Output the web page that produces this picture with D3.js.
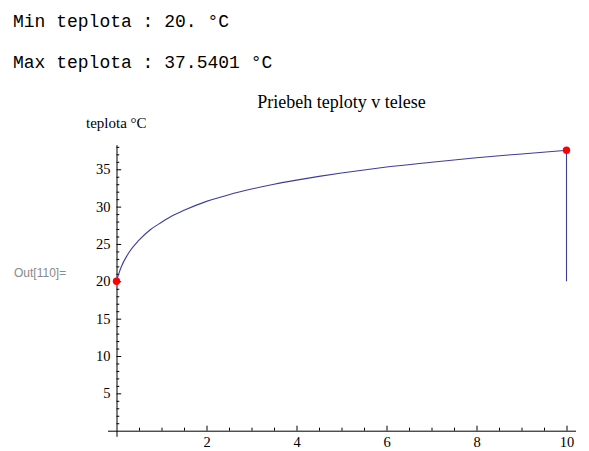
<!DOCTYPE html>
<html>
<head>
<meta charset="utf-8">
<script src="https://cdn.jsdelivr.net/npm/d3@7"></script>
<style>
  html, body { margin: 0; padding: 0; background: #fff; }
  svg { display: block; }
</style>
</head>
<body>
<svg id="chart" width="589" height="451"></svg>
<script>
// ---- data ----
const timeValues = [0, 0.05, 0.1, 0.25, 0.5, 0.75, 1, 1.25, 1.5, 2, 2.5, 3, 3.5, 4, 4.5, 5, 5.5, 6, 7, 8, 9, 10];
const tempValues = [20, 21.0, 21.85, 23.6, 25.5, 26.9, 27.9, 28.8, 29.5, 30.7, 31.6, 32.35, 33.0, 33.55, 34.05, 34.5, 34.9, 35.3, 35.95, 36.55, 37.05, 37.54];
const minTemp = 20;
const maxTemp = 37.5401;
const extremeTimes = [0, 10];
const extremeTemps = [20, 37.5401];
const xTickLabels = [2, 4, 6, 8, 10];
const yTickLabels = [5, 10, 15, 20, 25, 30, 35];
const xMinorTicks = [0.5, 1, 1.5, 2.5, 3, 3.5, 4.5, 5, 5.5, 6.5, 7, 7.5, 8.5, 9, 9.5];
const yMinorTicks = [1,2,3,4,6,7,8,9,11,12,13,14,16,17,18,19,21,22,23,24,26,27,28,29,31,32,33,34,36,37,38];
const titleText = "Priebeh teploty v telese";
const yLabelText = "teplota °C";
const minLine = "Min teplota : 20. °C";
const maxLine = "Max teplota : 37.5401 °C";
const outLabel = "Out[110]=";

const svg = d3.select("#chart");

// header text lines (monospace)
svg.append("text").attr("x", 13).attr("y", 27)
  .attr("font-family", "'Liberation Mono', 'Courier New', monospace")
  .attr("font-size", 18).attr("fill", "#000").text(minLine);
svg.append("text").attr("x", 13).attr("y", 67.5)
  .attr("font-family", "'Liberation Mono', 'Courier New', monospace")
  .attr("font-size", 18).attr("fill", "#000").text(maxLine);

// Out label
svg.append("text").attr("x", 14).attr("y", 277)
  .attr("font-family", "'Liberation Sans', Arial, sans-serif")
  .attr("font-size", 12).attr("fill", "#8a8a8a").text(outLabel);

// scales
const x = d3.scaleLinear().domain([-0.2, 10.2]).range([107.5, 575.5]);
const y = d3.scaleLinear().domain([-0.75, 38.29]).range([436.3, 144.7]);

const serif = "'Liberation Serif', 'Times New Roman', serif";

// title
svg.append("text").attr("x", (x.range()[0] + x.range()[1]) / 2).attr("y", 107.5)
  .attr("text-anchor", "middle").attr("font-family", serif)
  .attr("font-size", 18).attr("fill", "#000").text(titleText);

// y label
svg.append("text").attr("x", 86).attr("y", 128)
  .attr("font-family", serif).attr("font-size", 15).attr("fill", "#000").text(yLabelText);

// x axis (at y=0)
const xAxisG = svg.append("g").attr("transform", `translate(0,${y(0)})`)
  .call(d3.axisBottom(x).tickValues(xTickLabels).tickFormat(d3.format("d"))
    .tickSizeInner(-5).tickSizeOuter(0).tickPadding(6));
const xMinorG = svg.append("g").attr("transform", `translate(0,${y(0)})`)
  .call(d3.axisBottom(x).tickValues(xMinorTicks).tickFormat("")
    .tickSizeInner(-3).tickSizeOuter(0));
xMinorG.select(".domain").remove();

// y axis (at x=0)
const yAxisG = svg.append("g").attr("transform", `translate(${x(0)},0)`)
  .call(d3.axisLeft(y).tickValues(yTickLabels).tickFormat(d3.format("d"))
    .tickSizeInner(-4.7).tickSizeOuter(0).tickPadding(6));
const yMinorG = svg.append("g").attr("transform", `translate(${x(0)},0)`)
  .call(d3.axisLeft(y).tickValues(yMinorTicks).tickFormat("")
    .tickSizeInner(-2.8).tickSizeOuter(0));
yMinorG.select(".domain").remove();

[xAxisG, yAxisG].forEach(g => {
  g.selectAll("text").attr("font-family", serif).attr("font-size", 14.5).attr("fill", "#000");
  g.select(".domain").attr("stroke", "#000").attr("stroke-width", 1);
});
svg.selectAll(".tick line").attr("stroke", "#000").attr("stroke-width", 1);

// curve
const lineColor = "#3d3d99";
const pts = timeValues.map((t, i) => [t, tempValues[i]]);
const line = d3.line().x(d => x(d[0])).y(d => y(d[1])).curve(d3.curveMonotoneX);
svg.append("path").datum(pts).attr("d", line)
  .attr("fill", "none").attr("stroke", lineColor).attr("stroke-width", 1.1);

// vertical drop at t = 10
svg.append("path").datum([[10, maxTemp], [10, minTemp]])
  .attr("d", d3.line().x(d => x(d[0])).y(d => y(d[1])))
  .attr("fill", "none").attr("stroke", lineColor).attr("stroke-width", 1.1);

// extreme points
svg.selectAll("circle.ext").data(extremeTimes.map((t, i) => [t, extremeTemps[i]]))
  .enter().append("circle").attr("class", "ext")
  .attr("cx", d => x(d[0])).attr("cy", d => y(d[1])).attr("r", 3.7)
  .attr("fill", "#ff0000");
</script>
</body>
</html>
